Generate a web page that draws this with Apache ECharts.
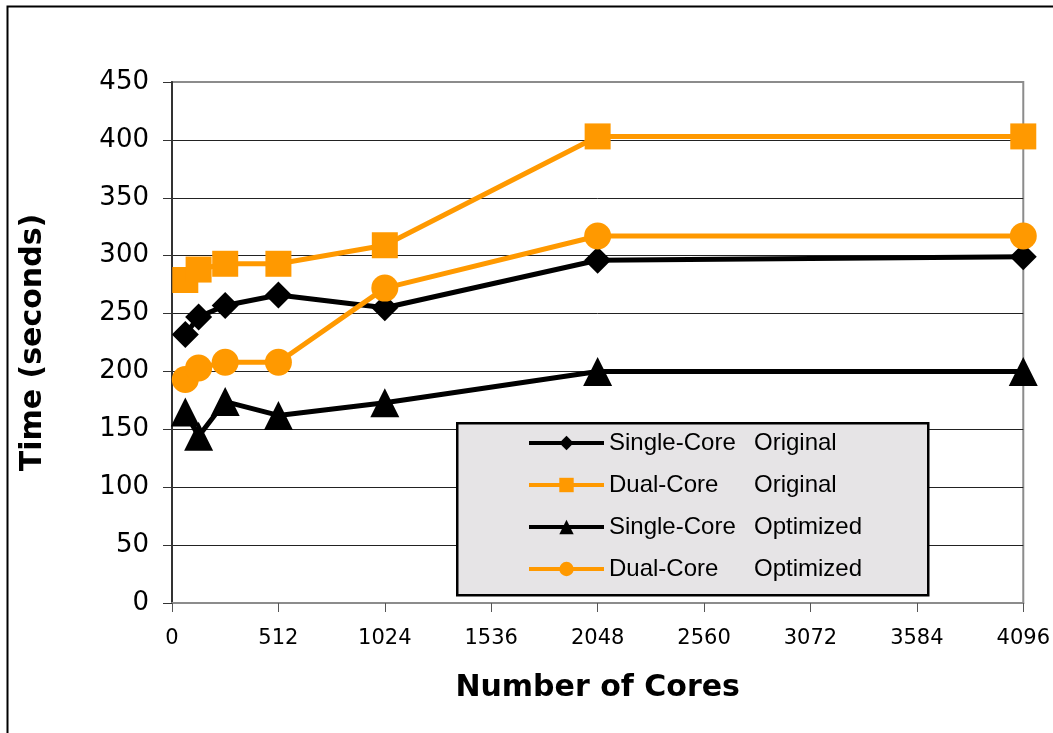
<!DOCTYPE html>
<html>
<head>
<meta charset="utf-8">
<script src="https://cdn.jsdelivr.net/npm/echarts@6/dist/echarts.min.js"></script>
<style>
  html, body { margin: 0; padding: 0; background: #fff; }
  #chart { width: 1053px; height: 733px; }
</style>
</head>
<body>
<div id="chart"></div>
<script>
// cores on the x axis
const cores = [64, 128, 256, 512, 1024, 2048, 4096]
const xTicks = ['0', '512', '1024', '1536', '2048', '2560', '3072', '3584', '4096']

// times in seconds
const singleOriginal = [232, 247, 257, 266, 255, 296, 299]
const dualOriginal = [279, 288, 293, 293, 309, 403, 403]
const singleOptimized = [165, 144, 174, 162, 173, 200, 200]
const dualOptimized = [193, 203, 208, 208, 272, 317, 317]

const seriesNames = ['Single-Core Original', 'Dual-Core Original', 'Single-Core Optimized', 'Dual-Core Optimized']

const black = '#000000'
const orange = '#ff9900'

function pairs (ys) {
  return cores.map((c, i) => [c, ys[i]])
}

function makeSeries (name, ys, color, symbol, size) {
  return {
    name: name,
    type: 'line',
    data: pairs(ys),
    symbol: symbol,
    symbolSize: size,
    showSymbol: true,
    itemStyle: { color: color },
    lineStyle: { color: color, width: 5 },
    emphasis: { disabled: true },
    animation: false
  }
}

const chart = echarts.init(document.getElementById('chart'))

const option = {
  backgroundColor: '#ffffff',
  animation: false,
  graphic: [
    {
      // outer frame
      type: 'rect',
      left: 5,
      top: 4,
      shape: { x: 0, y: 0, width: 1070, height: 760 },
      style: { fill: 'none', stroke: '#000', lineWidth: 2 },
      silent: true,
      z: 1
    },
    {
      // legend box
      type: 'rect',
      left: 456,
      top: 422,
      shape: { x: 0, y: 0, width: 471, height: 172 },
      style: { fill: '#e6e4e6', stroke: '#000', lineWidth: 2.5 },
      silent: true,
      z: 50
    }
  ],
  grid: {
    left: 172,
    top: 82,
    right: 28,
    bottom: 130,
    show: true,
    borderColor: '#8c8c8c',
    borderWidth: 2,
    backgroundColor: 'transparent'
  },
  legend: {
    orient: 'vertical',
    left: 527,
    top: 431,
    padding: 0,
    itemWidth: 75,
    itemHeight: 18,
    itemGap: 18,
    z: 60,
    data: seriesNames,
    lineStyle: { width: 4 },
    formatter: function (name) {
      const parts = name.split(' ')
      return '{a|' + parts[0] + '}{b|' + parts[1] + '}'
    },
    textStyle: {
      fontFamily: 'Liberation Sans, Arial, sans-serif',
      fontSize: 24,
      lineHeight: 24,
      color: '#000',
      rich: {
        a: { width: 145, fontSize: 24, lineHeight: 24, fontFamily: 'Liberation Sans, Arial, sans-serif', color: '#000' },
        b: { fontSize: 24, lineHeight: 24, fontFamily: 'Liberation Sans, Arial, sans-serif', color: '#000' }
      }
    }
  },
  xAxis: {
    type: 'value',
    min: 0,
    max: 4096,
    interval: 512,
    name: 'Number of Cores',
    nameLocation: 'middle',
    nameGap: 70,
    nameTextStyle: {
      fontFamily: 'DejaVu Sans, sans-serif',
      fontWeight: 'bold',
      fontSize: 30,
      color: '#000'
    },
    axisLine: { show: true, onZero: false, lineStyle: { color: '#8c8c8c', width: 2 } },
    axisTick: { show: true, inside: false, length: 9, lineStyle: { color: '#555', width: 1 } },
    axisLabel: {
      margin: 25,
      fontFamily: 'DejaVu Sans, sans-serif',
      fontSize: 21,
      color: '#000',
      formatter: function (v) {
        return xTicks[Math.round(v / 512)]
      }
    },
    splitLine: { show: false }
  },
  yAxis: {
    type: 'value',
    min: 0,
    max: 450,
    interval: 50,
    name: 'Time (seconds)',
    nameLocation: 'middle',
    nameGap: 124,
    nameTextStyle: {
      fontFamily: 'DejaVu Sans, sans-serif',
      fontWeight: 'bold',
      fontSize: 30,
      color: '#000'
    },
    axisLine: { show: true, lineStyle: { color: '#333', width: 2 } },
    axisTick: { show: true, inside: false, length: 9, lineStyle: { color: '#333', width: 1 } },
    axisLabel: {
      margin: 23,
      fontFamily: 'DejaVu Sans, sans-serif',
      fontSize: 26,
      color: '#000'
    },
    splitLine: {
      show: true,
      showMinLine: false,
      showMaxLine: false,
      lineStyle: { color: '#222', width: 1 }
    }
  },
  series: [
    makeSeries(seriesNames[0], singleOriginal, black, 'diamond', 27),
    makeSeries(seriesNames[1], dualOriginal, orange, 'rect', 26),
    makeSeries(seriesNames[2], singleOptimized, black, 'triangle', 29),
    makeSeries(seriesNames[3], dualOptimized, orange, 'circle', 27)
  ]
}

chart.setOption(option)
</script>
</body>
</html>
